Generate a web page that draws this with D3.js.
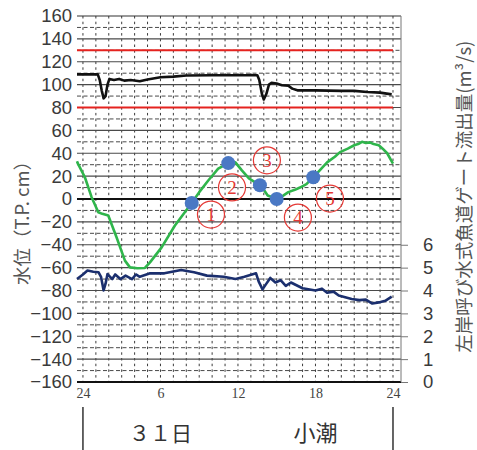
<!DOCTYPE html>
<html>
<head>
<meta charset="utf-8">
<script src="https://cdn.jsdelivr.net/npm/d3@7"></script>
<style>
  html, body { margin: 0; padding: 0; background: #fff; }
  svg { display: block; }
</style>
</head>
<body>
<script>
// ---------- data ----------
const leftTicks = [160,140,120,100,80,60,40,20,0,-20,-40,-60,-80,-100,-120,-140,-160];
const rightTicks = [0,1,2,3,4,5,6];
const hourTicks = [0,6,12,18,24];
const hourTickLabels = ["24","6","12","18","24"];
const redLevels = [130, 80];

// black: upstream water level (T.P. cm) [hour, value]
const blackLevel = [
  [-0.46,109],[0.5,109],[1.15,109],[1.3,104],[1.45,95],[1.6,88],[1.75,90],[1.9,100],[2.05,105],
  [2.4,104],[2.8,105],[3.2,103.5],[3.7,104],[4.4,103],[5,104.5],[6,106.5],[7,107],[8,108],
  [10,108.2],[12,108.2],[13.5,108.2],[13.65,104],[13.85,92],[14.0,87],[14.2,92],[14.4,100],
  [14.6,101.5],[15.0,101],[15.4,99.5],[15.9,99],[16.2,96.5],[16.6,95],[18,95],[20,94.5],
  [21,94.5],[22,93.5],[23,93],[23.9,91.5]
];

// green: downstream / tide water level (T.P. cm)
const greenLevel = [
  [-0.46,33],[-0.41,31.4],[0.15,19],[0.67,1.6],[1.19,-11.6],[1.5,-13],[1.96,-14.5],[2.6,-33.5],
  [3.25,-53.9],[3.64,-59.8],[4.2,-60.5],[4.8,-60.3],[5.19,-55.4],[6.09,-42.3],[7.12,-23.2],
  [8.42,-3.5],[9.0,6],[9.7,16.2],[10.47,26.5],[11.25,31.4],[11.8,32],[12.3,25],[12.85,18],
  [13.7,12],[14.0,8],[14.3,3],[15.0,0],[15.5,3],[15.9,6],[16.4,8],[16.8,10],[17.3,13],
  [17.83,19],[18.4,26],[18.9,32],[19.5,37],[19.9,41],[20.5,44],[21.0,47],[21.3,48],[21.6,50],
  [21.9,49],[22.2,49.5],[22.5,48],[22.9,47],[23.2,44],[23.55,40],[24.0,31]
];

// blue points on the green line (labelled 1..5)
const pointHours = [8.42, 11.25, 13.7, 15.0, 17.83];
const pointLevels = [-3.5, 31.4, 12, 0, 19];
const pointLabels = ["1","2","3","4","5"];
// circled label anchor positions (hour, level)
const labelHours = [9.91, 11.54, 14.24, 16.64, 19.12];
const labelLevels = [-13.6, 10.1, 33.8, -16.2, 0.4];

// navy: fishway gate discharge (m3/s), right axis
const gateFlow = [
  [-0.46,4.5],[0.0,4.7],[0.35,4.87],[0.8,4.82],[1.2,4.8],[1.4,4.6],[1.6,4.0],[1.75,4.3],[1.9,4.72],
  [2.27,4.5],[2.5,4.7],[2.9,4.5],[3.3,4.65],[3.8,4.5],[4.1,4.7],[4.4,4.6],[5.2,4.75],[6.3,4.75],
  [7.6,4.9],[8.6,4.8],[9.6,4.65],[10.9,4.6],[11.8,4.5],[12.5,4.6],[13.4,4.75],[13.6,4.4],
  [13.9,4.05],[14.2,4.3],[14.5,4.55],[14.9,4.35],[15.3,4.45],[15.7,4.2],[16.1,4.35],[17.0,4.1],
  [18.0,4.0],[18.5,4.08],[18.9,3.9],[19.4,3.95],[19.8,3.78],[20.8,3.63],[21.4,3.58],[21.9,3.6],
  [22.4,3.43],[22.9,3.48],[23.4,3.55],[23.9,3.73]
];

const leftTitle = "水位（T.P. cm）";
const rightTitle = "左岸呼び水式魚道ゲート流出量(m³/s)";
const dayLabel = "３１日";
const tideLabel = "小潮";

// ---------- layout ----------
const W = 477, H = 450;
const plotLeft = 77, plotRight = 401, plotTop = 16, plotBottom = 382;

const x = d3.scaleLinear().domain([-0.46, 24.62]).range([plotLeft, plotRight]);
const y = d3.scaleLinear().domain([-160, 160]).range([plotBottom, plotTop]);
const yR = d3.scaleLinear().domain([0, 16]).range([plotBottom, plotTop]);

const svg = d3.select("body").append("svg").attr("width", W).attr("height", H);
svg.append("rect").attr("width", W).attr("height", H).attr("fill", "#fff");

const g = svg.append("g");

// vertical dotted gridlines every hour
g.append("g").selectAll("line").data(d3.range(0, 25)).join("line")
  .attr("x1", d => x(d)).attr("x2", d => x(d))
  .attr("y1", plotTop).attr("y2", plotBottom)
  .attr("stroke", "#3a3a3a").attr("stroke-width", 1).attr("stroke-dasharray", "2.5,3.2");

// minor dashed horizontal gridlines at odd tens
g.append("g").selectAll("line").data(d3.range(-150, 160, 20)).join("line")
  .attr("x1", plotLeft).attr("x2", plotRight)
  .attr("y1", d => y(d)).attr("y2", d => y(d))
  .attr("stroke", "#4a4a4a").attr("stroke-width", 1).attr("stroke-dasharray", "4,2.5");

// major solid horizontal gridlines
g.append("g").selectAll("line").data(leftTicks).join("line")
  .attr("x1", plotLeft).attr("x2", plotRight)
  .attr("y1", d => y(d)).attr("y2", d => y(d))
  .attr("stroke", d => (d === 0 || d === -160) ? "#111" : (d === 160 ? "#333" : "#4a4a4a"))
  .attr("stroke-width", d => (d === 0 || d === -160) ? 2 : 1.2);

// right border
g.append("line").attr("x1", plotRight).attr("x2", plotRight)
  .attr("y1", plotTop).attr("y2", plotBottom).attr("stroke", "#777").attr("stroke-width", 1);

// red reference lines
g.append("g").selectAll("line").data(redLevels).join("line")
  .attr("x1", x(-0.46)).attr("x2", x(24))
  .attr("y1", d => y(d)).attr("y2", d => y(d))
  .attr("stroke", "#e5231f").attr("stroke-width", 2);

// left axis
const la = svg.append("g").attr("transform", `translate(${plotLeft},0)`)
  .call(d3.axisLeft(y).tickValues(leftTicks).tickSize(0).tickPadding(5));
la.select(".domain").remove();
la.selectAll("text").attr("font-family", "Liberation Sans, Arial, sans-serif")
  .attr("font-size", 18.5).attr("fill", "#3a3a3a");

// right axis
const ra = svg.append("g").attr("transform", `translate(${plotRight},0)`)
  .call(d3.axisRight(yR).tickValues(rightTicks).tickSize(7).tickPadding(15).tickFormat(d3.format("d")));
ra.select(".domain").remove();
ra.selectAll("line").attr("stroke", "#777");
ra.selectAll("text").attr("font-family", "Liberation Sans, Arial, sans-serif")
  .attr("font-size", 18.5).attr("fill", "#3a3a3a");

// bottom axis
const ba = svg.append("g").attr("transform", `translate(0,${plotBottom})`)
  .call(d3.axisBottom(x).tickValues(hourTicks).tickSize(0).tickPadding(6)
    .tickFormat((d, i) => hourTickLabels[i]));
ba.select(".domain").remove();
ba.selectAll("text").attr("font-family", "Liberation Serif, Times New Roman, serif")
  .attr("font-size", 14).attr("fill", "#444");

// lines
const line = d3.line().x(d => x(d[0])).y(d => y(d[1])).curve(d3.curveLinear);
const lineR = d3.line().x(d => x(d[0])).y(d => yR(d[1])).curve(d3.curveLinear);

svg.append("path").attr("d", line(blackLevel)).attr("fill", "none")
  .attr("stroke", "#111").attr("stroke-width", 2.6).attr("stroke-linejoin", "round");
svg.append("path").attr("d", line(greenLevel)).attr("fill", "none")
  .attr("stroke", "#2fb54b").attr("stroke-width", 2.6).attr("stroke-linejoin", "round");
svg.append("path").attr("d", lineR(gateFlow)).attr("fill", "none")
  .attr("stroke", "#1b2f6e").attr("stroke-width", 2.6).attr("stroke-linejoin", "round");

// blue points
svg.append("g").selectAll("circle").data(pointHours).join("circle")
  .attr("cx", d => x(d)).attr("cy", (d, i) => y(pointLevels[i]))
  .attr("r", 7).attr("fill", "#4a78c4");

// circled labels
const lab = svg.append("g").selectAll("g").data(pointLabels).join("g")
  .attr("transform", (d, i) => `translate(${x(labelHours[i])},${y(labelLevels[i])})`);
lab.append("circle").attr("r", 13.5).attr("fill", "none")
  .attr("stroke", "#e53935").attr("stroke-width", 1.2);
lab.append("text").text(d => d).attr("text-anchor", "middle").attr("dy", "0.35em")
  .attr("font-family", "Liberation Serif, Times New Roman, serif")
  .attr("font-size", 19).attr("fill", "#e53935");

// titles
svg.append("text").text(leftTitle)
  .attr("transform", `translate(29,${y(-17)}) rotate(-90)`)
  .attr("text-anchor", "middle")
  .attr("font-family", "Noto Sans CJK JP, sans-serif").attr("font-size", 18.5)
  .attr("fill", "#555");
svg.append("text").text(rightTitle)
  .attr("transform", `translate(471,${y(2)}) rotate(-90)`)
  .attr("text-anchor", "middle")
  .attr("font-family", "Noto Sans CJK JP, sans-serif").attr("font-size", 18.5)
  .attr("fill", "#555");

// bottom day / tide labels and separators
svg.append("g").selectAll("line").data([0, 24]).join("line")
  .attr("x1", d => x(d)).attr("x2", d => x(d)).attr("y1", 407).attr("y2", 450)
  .attr("stroke", "#333").attr("stroke-width", 1.5);
svg.append("text").text(dayLabel).attr("x", x(6)).attr("y", 441)
  .attr("text-anchor", "middle").attr("font-family", "Noto Sans CJK JP, sans-serif")
  .attr("font-size", 21).attr("fill", "#333");
svg.append("text").text(tideLabel).attr("x", x(18)).attr("y", 441)
  .attr("text-anchor", "middle").attr("font-family", "Noto Sans CJK JP, sans-serif")
  .attr("font-size", 22).attr("fill", "#333");
</script>
</body>
</html>
